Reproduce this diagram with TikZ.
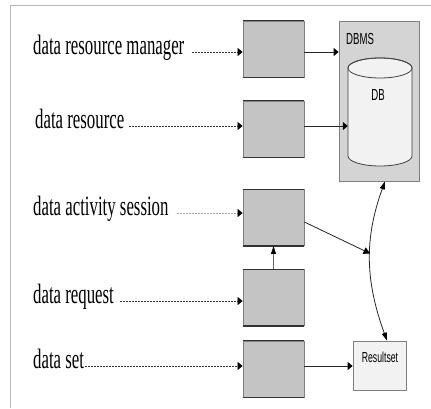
\documentclass[tikz,border=0pt]{standalone}
\usepackage{fontspec}
\setmainfont{Liberation Serif}
\newfontfamily\labelsans{Liberation Sans}
\usepackage{graphicx}
\usetikzlibrary{arrows.meta}
% condensed lettering used throughout the figure
\newcommand\hsquash[1]{\scalebox{0.6}[1]{#1}}
\definecolor{unitfill}{HTML}{C4C4C4}
\definecolor{dbmsfill}{HTML}{D4D4D4}
\definecolor{lightfill}{HTML}{F2F2F2}
\tikzset{
  role/.style={anchor=base west, inner sep=0pt, font=\fontsize{28}{30}\selectfont},
  sanslbl/.style={inner sep=0pt, font=\labelsans\fontsize{16}{18}\selectfont},
  unit/.style={draw=gray, fill=unitfill, line width=0.8pt, minimum width=61pt,
    minimum height=56pt, inner sep=0pt},
  unitedge/.style={draw=black!80, line width=1.2pt},
  link/.style={draw=black!85, line width=0.8pt},
  ref/.style={draw=black!80, line width=0.7pt, dash pattern=on 2pt off 1pt},
  htip/.style={-{Triangle[length=5pt,width=8pt,color=black]}},
  vtip/.style={-{Triangle[length=8pt,width=5pt,color=black]}},
  dtip/.style={-{Triangle[length=6.5pt,width=7pt,color=black]}},
}
\begin{document}
\begin{tikzpicture}[x=1pt,y=-1pt]
\useasboundingbox (0,0) rectangle (431,408);
\fill[white] (0,0) rectangle (431,408);
% page frame (top and left rules)
\draw[gray!55, line width=0.8pt] (431,5) -- (10,5) -- (10,408);

% processing units
\node[unit] (b1) at (273.5,49) {};
\node[unit] (b2) at (273.5,129) {};
\node[unit] (b3) at (273.5,217.5) {};
\node[unit] (b4) at (273.5,297.5) {};
\node[unit] (b5) at (273.5,369) {};
\foreach \b in {b1,b2,b3,b4,b5} {
  \draw[unitedge] (\b.north west) -- (\b.north east);
  \draw[unitedge] (\b.south west) -- (\b.south east);
}

% DBMS container with the database cylinder
\node[draw=gray, fill=dbmsfill, line width=0.8pt, minimum width=80pt,
  minimum height=160pt, inner sep=0pt] (dbms) at (379,101) {};
\node[sanslbl, anchor=base west] (dbmslbl) at (346,44) {\hsquash{DBMS}};
\node[minimum width=64pt, minimum height=108pt, inner sep=0pt] (cyl) at (380,112) {};
\filldraw[fill=lightfill, draw=black!75, line width=0.8pt]
  (348,68) -- (348,156)
  arc[start angle=180, end angle=360, x radius=32pt, y radius=10pt]
  -- (412,68)
  arc[start angle=0, end angle=180, x radius=32pt, y radius=10pt] -- cycle;
\draw[black!75, line width=0.8pt] (380,68) ellipse[x radius=32pt, y radius=10pt];
\node[sanslbl, anchor=base] (dblbl) at (378,100) {\hsquash{DB}};

% result set
\node[draw=gray, fill=lightfill, line width=0.8pt, minimum width=53pt,
  minimum height=49pt, inner sep=0pt] (rs) at (379.5,365.5) {};
\node[sanslbl, anchor=base, font=\labelsans\fontsize{14.5}{16}\selectfont]
  (rslbl) at (380,362) {\hsquash{Resultset}};

% role names
\node[role] (t1) at (33,54) {\hsquash{data resource manager}};
\node[role] (t2) at (35,128) {\hsquash{data resource}};
\node[role] (t3) at (33,215) {\hsquash{data activity session}};
\node[role] (t4) at (33,303) {\hsquash{data request}};
\node[role] (t5) at (33,368) {\hsquash{data set}};

\coordinate (d1) at ([xshift=7pt,yshift=2pt]t1.base east);
\coordinate (d2) at ([xshift=5pt,yshift=2pt]t2.base east);
\coordinate (d3) at ([xshift=8pt,yshift=2pt]t3.base east);
\coordinate (d4) at ([xshift=6pt,yshift=2pt]t4.base east);
\coordinate (d5) at ([xshift=1pt,yshift=2pt]t5.base east);

% references from the names to the units
\draw[ref, htip] (d1) -- (d1 -| b1.west);
\draw[ref, htip] (d2) -- (d2 -| b2.west);
\draw[ref, htip, draw=gray!70] (d3) -- (d3 -| b3.west);
\draw[ref, htip] (d4) -- (d4 -| b4.west);
\draw[ref, htip] (d5) -- (d5 -| b5.west);

% links between the units
\draw[link, htip] (b1.east |- d1) -- (dbms.west |- d1);
\draw[link, htip] (b2.east |- d2) -- (cyl.west |- d2);
\draw[link, htip] (b5.east |- d5) -- (rs.west |- d5);
\draw[link, vtip, draw=gray!75!black] (b4.north) -- (b3.south);
\draw[link, {Triangle[length=8pt,width=5pt,color=black]}-{Triangle[length=8pt,width=5pt,color=black]}]
  ([xshift=6pt]dbms.south) to[out=250, in=110] coordinate[pos=0.45] (meet)
  ([xshift=7.5pt]rs.north);
\draw[link, dtip] ([yshift=-4.5pt]b3.east) -- (meet);
\end{tikzpicture}
\end{document}
